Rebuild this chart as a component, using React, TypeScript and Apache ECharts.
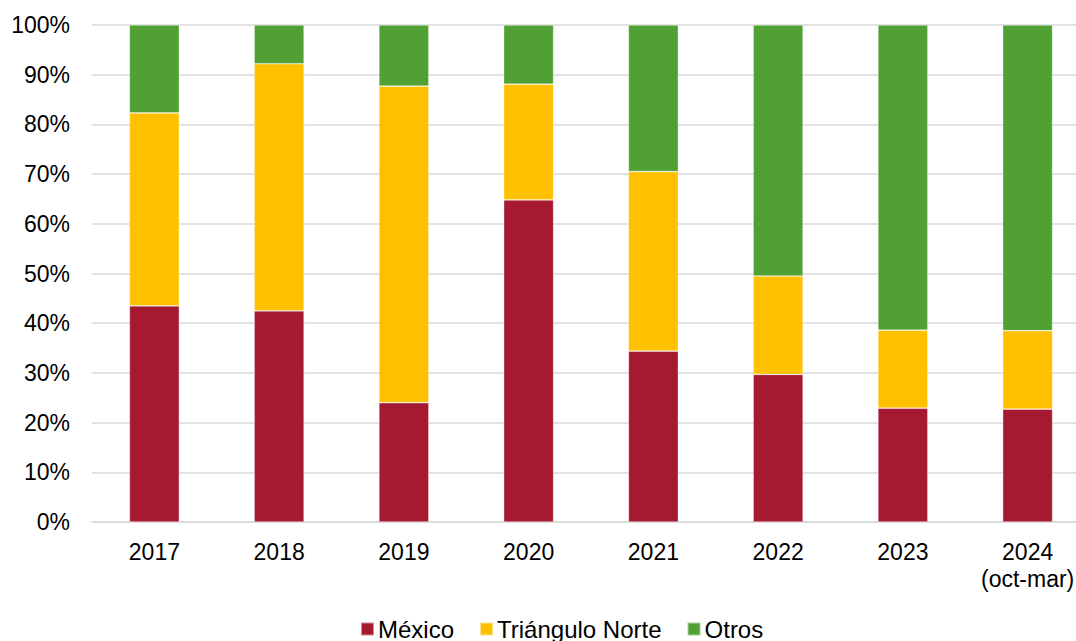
import React, { useEffect, useRef } from "react";
import * as echarts from "echarts";

const categories = ["2017", "2018", "2019", "2020", "2021", "2022", "2023", "2024\n(oct-mar)"];
const mexico = [43.5, 42.5, 24.0, 64.8, 34.4, 29.7, 22.9, 22.7];
const trianguloNorte = [38.8, 49.7, 63.7, 23.3, 36.1, 19.8, 15.7, 15.8];
const otros = [17.7, 7.8, 12.3, 11.9, 29.5, 50.5, 61.4, 61.5];
const yTicks = [0, 10, 20, 30, 40, 50, 60, 70, 80, 90, 100];

export default function App() {
  const ref = useRef<HTMLDivElement>(null);
  useEffect(() => {
    const chart = echarts.init(ref.current!, null, { renderer: "svg" });
    const font = "'Liberation Sans', Arial, sans-serif";
    const mk = (name: string, data: number[], color: string) => ({
      name,
      type: "bar",
      stack: "total",
      data,
      barWidth: 50,
      itemStyle: { color, borderColor: "rgba(255,255,255,0.5)", borderWidth: 0.7 },
    });
    chart.setOption({
      animation: false,
      textStyle: { fontFamily: font },
      grid: { left: 92, top: 25, width: 998, height: 497, containLabel: false },
      legend: {
        top: 612,
        left: 355,
        itemWidth: 13,
        itemHeight: 13,
        itemGap: 25,
        icon: "rect",
        textStyle: { fontSize: 24, color: "#000", fontFamily: font, padding: [0, 0, 0, -1] },
        data: ["México", "Triángulo Norte", "Otros"],
      },
      xAxis: {
        type: "category",
        data: categories,
        axisLine: { lineStyle: { color: "#d9d9d9", width: 1.5 } },
        axisTick: { show: false },
        axisLabel: { fontSize: 23, color: "#000", margin: 16, lineHeight: 27, fontFamily: font },
      },
      yAxis: {
        type: "value",
        min: 0,
        max: 100,
        interval: 10,
        axisLine: { show: false },
        axisTick: { show: false },
        splitLine: { lineStyle: { color: "#d9d9d9", width: 1.5 } },
        axisLabel: {
          fontSize: 23,
          color: "#000",
          margin: 22,
          fontFamily: font,
          formatter: (v: number) => (yTicks.includes(v) ? v + "%" : ""),
        },
      },
      series: [
        mk("México", mexico, "#A51A30"),
        mk("Triángulo Norte", trianguloNorte, "#FFC000"),
        mk("Otros", otros, "#51A033"),
      ],
    });
    return () => chart.dispose();
  }, []);
  return (
    <div style={{ position: "absolute", left: 0, top: 0, width: 1076, height: 641, overflow: "hidden", background: "#fff" }}>
      <div ref={ref} style={{ width: 1092, height: 641 }} />
    </div>
  );
}
